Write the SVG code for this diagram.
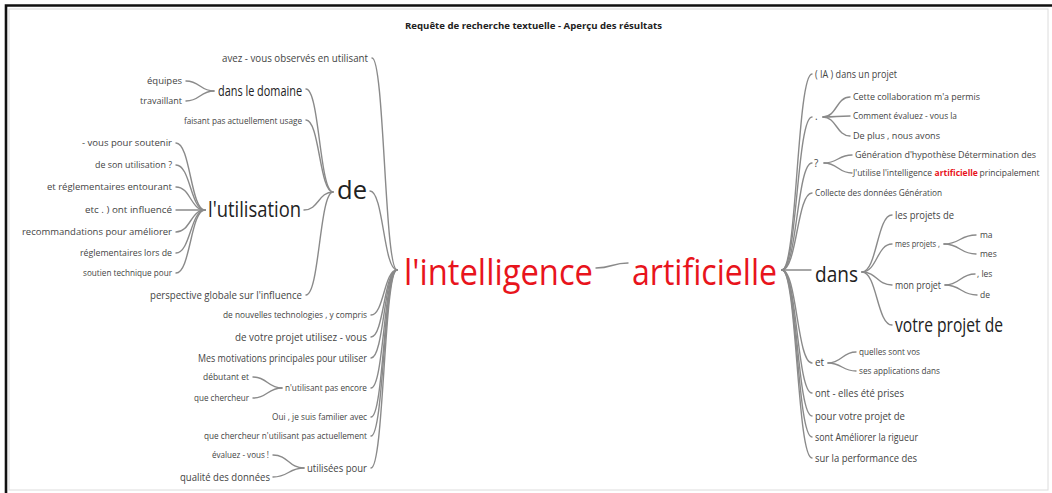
<svg xmlns="http://www.w3.org/2000/svg" width="1052" height="493" viewBox="0 0 1052 493">
<style>
text{font-family:"Segoe UI","Open Sans","Noto Sans",sans-serif;fill:#444}
.e{text-anchor:end}
.big{fill:#222}
.red{fill:#e8141c}
.b{font-weight:bold}
.c{fill:none;stroke:#8a8a8a;stroke-width:1.4;stroke-linecap:round}
</style>
<rect x="0" y="0" width="1052" height="493" fill="#fff"/>
<rect x="9" y="9" width="1039" height="481" fill="none" stroke="#dcdcdc" stroke-width="1"/>
<path d="M6,493 V5.5 H1052" fill="none" stroke="#111" stroke-width="2.6"/>
<g id="title"><text class="big b" x="533.5" y="29" text-anchor="middle" font-size="9.5" textLength="257" lengthAdjust="spacingAndGlyphs">Requête de recherche textuelle - Aperçu des résultats</text></g>

<g id="connectors">
<path class="c" d="M596,268 C612,268 612,263 628,263"/>
<path class="c" d="M372,58 C384.5,58 384.5,270 397,270"/>
<path class="c" d="M370,191 C383.5,191 383.5,270 397,270"/>
<path class="c" d="M371,315 C384,315 384,270 397,270"/>
<path class="c" d="M371,337 C384,337 384,270 397,270"/>
<path class="c" d="M371,358 C384,358 384,270 397,270"/>
<path class="c" d="M371,388 C384,388 384,270 397,270"/>
<path class="c" d="M371,417 C384,417 384,270 397,270"/>
<path class="c" d="M371,436 C384,436 384,270 397,270"/>
<path class="c" d="M371,468 C384,468 384,270 397,270"/>
<path class="c" d="M306,89 C319.5,89 319.5,192 333,192"/>
<path class="c" d="M306,120 C319.5,120 319.5,192 333,192"/>
<path class="c" d="M304,210 C318.5,210 318.5,192 333,192"/>
<path class="c" d="M306,295 C319.5,295 319.5,192 333,192"/>
<path class="c" d="M176,143 C190.5,143 190.5,210 205,210"/>
<path class="c" d="M176,165 C190.5,165 190.5,210 205,210"/>
<path class="c" d="M176,187 C190.5,187 190.5,210 205,210"/>
<path class="c" d="M176,210 L205,210"/>
<path class="c" d="M176,232 C190.5,232 190.5,210 205,210"/>
<path class="c" d="M176,253 C190.5,253 190.5,210 205,210"/>
<path class="c" d="M176,273 C190.5,273 190.5,210 205,210"/>
<path class="c" d="M186,81 C200,81 200,91 214,91"/>
<path class="c" d="M186,101 C200,101 200,91 214,91"/>
<path class="c" d="M253,377 C267.5,377 267.5,388 282,388"/>
<path class="c" d="M253,398 C267.5,398 267.5,388 282,388"/>
<path class="c" d="M273,455 C288.5,455 288.5,468 304,468"/>
<path class="c" d="M273,477 C288.5,477 288.5,468 304,468"/>
<path class="c" d="M782,270 C797,270 797,74 812,74"/>
<path class="c" d="M782,270 C797,270 797,117 812,117"/>
<path class="c" d="M782,270 C797,270 797,163 812,163"/>
<path class="c" d="M782,270 C797,270 797,193 812,193"/>
<path class="c" d="M782,270 L811,270"/>
<path class="c" d="M782,270 C797,270 797,363 812,363"/>
<path class="c" d="M782,270 C797,270 797,393 812,393"/>
<path class="c" d="M782,270 C797,270 797,416 812,416"/>
<path class="c" d="M782,270 C797,270 797,437 812,437"/>
<path class="c" d="M782,270 C797,270 797,458 812,458"/>
<path class="c" d="M823,117 C836.5,117 836.5,97 850,97"/>
<path class="c" d="M823,117 C836.5,117 836.5,116 850,116"/>
<path class="c" d="M823,117 C836.5,117 836.5,136 850,136"/>
<path class="c" d="M824,163 C838,163 838,155 852,155"/>
<path class="c" d="M824,163 C838,163 838,173 852,173"/>
<path class="c" d="M862,272 C877,272 877,215 892,215"/>
<path class="c" d="M862,272 C877,272 877,244 892,244"/>
<path class="c" d="M862,272 C877,272 877,285 892,285"/>
<path class="c" d="M862,272 C877,272 877,325 892,325"/>
<path class="c" d="M944,244 C960,244 960,235 976,235"/>
<path class="c" d="M944,244 C960,244 960,254 976,254"/>
<path class="c" d="M945,285 C960,285 960,274 975,274"/>
<path class="c" d="M945,285 C961,285 961,295 977,295"/>
<path class="c" d="M828,363 C842,363 842,352 856,352"/>
<path class="c" d="M828,363 C842,363 842,371 856,371"/>
</g>

<g id="n-intelligence"><text class="red" x="404" y="285" font-size="37" textLength="189" lengthAdjust="spacingAndGlyphs">l'intelligence</text></g>
<g id="n-artificielle"><text class="red" x="632" y="285" font-size="37" textLength="145" lengthAdjust="spacingAndGlyphs">artificielle</text></g>

<g id="n-avez"><text class="e" x="368" y="61.5" font-size="10" textLength="146" lengthAdjust="spacingAndGlyphs">avez - vous observés en utilisant</text></g>
<g id="n-de"><text class="big" x="337" y="199" font-size="25" textLength="30" lengthAdjust="spacingAndGlyphs">de</text></g>
<g id="n-domaine"><text class="e big" x="302" y="96" font-size="14" textLength="84" lengthAdjust="spacingAndGlyphs">dans le domaine</text></g>
<g id="n-equipes"><text class="e" x="182" y="84" font-size="9.5" textLength="35" lengthAdjust="spacingAndGlyphs">équipes</text></g>
<g id="n-travaillant"><text class="e" x="182" y="104" font-size="9.5" textLength="42" lengthAdjust="spacingAndGlyphs">travaillant</text></g>
<g id="n-faisant"><text class="e" x="302" y="124" font-size="8.5" textLength="118" lengthAdjust="spacingAndGlyphs">faisant pas actuellement usage</text></g>
<g id="n-utilisation"><text class="e big" x="301" y="217" font-size="21" textLength="93" lengthAdjust="spacingAndGlyphs">l'utilisation</text></g>
<g id="n-u1"><text class="e" x="172" y="146" font-size="9.5" textLength="90" lengthAdjust="spacingAndGlyphs">- vous pour soutenir</text></g>
<g id="n-u2"><text class="e" x="172" y="168" font-size="9.5" textLength="77" lengthAdjust="spacingAndGlyphs">de son utilisation ?</text></g>
<g id="n-u3"><text class="e" x="172" y="190" font-size="9.5" textLength="125" lengthAdjust="spacingAndGlyphs">et réglementaires entourant</text></g>
<g id="n-u4"><text class="e" x="172" y="213" font-size="9.5" textLength="87" lengthAdjust="spacingAndGlyphs">etc . ) ont influencé</text></g>
<g id="n-u5"><text class="e" x="172" y="235" font-size="9.5" textLength="150" lengthAdjust="spacingAndGlyphs">recommandations pour améliorer</text></g>
<g id="n-u6"><text class="e" x="172" y="256" font-size="9.5" textLength="92" lengthAdjust="spacingAndGlyphs">réglementaires lors de</text></g>
<g id="n-u7"><text class="e" x="172" y="276" font-size="9.5" textLength="89" lengthAdjust="spacingAndGlyphs">soutien technique pour</text></g>
<g id="n-perspective"><text class="e" x="302" y="298.5" font-size="10" textLength="152" lengthAdjust="spacingAndGlyphs">perspective globale sur l'influence</text></g>

<g id="n-nouvelles"><text class="e" x="367" y="318" font-size="9" textLength="144" lengthAdjust="spacingAndGlyphs">de nouvelles technologies , y compris</text></g>
<g id="n-votre"><text class="e" x="367" y="341" font-size="11" textLength="132" lengthAdjust="spacingAndGlyphs">de votre projet utilisez - vous</text></g>
<g id="n-motivations"><text class="e" x="367" y="361.5" font-size="10" textLength="169" lengthAdjust="spacingAndGlyphs">Mes motivations principales pour utiliser</text></g>
<g id="n-encore"><text class="e" x="367" y="391" font-size="9.5" textLength="82" lengthAdjust="spacingAndGlyphs">n'utilisant pas encore</text></g>
<g id="n-debutant"><text class="e" x="249" y="380" font-size="9.5" textLength="46" lengthAdjust="spacingAndGlyphs">débutant et</text></g>
<g id="n-chercheur"><text class="e" x="249" y="401" font-size="9.5" textLength="55" lengthAdjust="spacingAndGlyphs">que chercheur</text></g>
<g id="n-oui"><text class="e" x="367" y="420" font-size="9.5" textLength="95" lengthAdjust="spacingAndGlyphs">Oui , je suis familier avec</text></g>
<g id="n-actuellement"><text class="e" x="367" y="439" font-size="9" textLength="163" lengthAdjust="spacingAndGlyphs">que chercheur n'utilisant pas actuellement</text></g>
<g id="n-utilisees"><text class="e" x="367" y="472" font-size="11.5" textLength="60" lengthAdjust="spacingAndGlyphs">utilisées pour</text></g>
<g id="n-evaluez"><text class="e" x="269" y="458" font-size="9.5" textLength="57" lengthAdjust="spacingAndGlyphs">évaluez - vous !</text></g>
<g id="n-qualite"><text class="e" x="270" y="481" font-size="11" textLength="90" lengthAdjust="spacingAndGlyphs">qualité des données</text></g>

<g id="n-ia"><text x="815" y="77.5" font-size="10" textLength="82" lengthAdjust="spacingAndGlyphs">( IA ) dans un projet</text></g>
<g id="n-dot"><text x="815" y="120" font-size="10">.</text></g>
<g id="n-cette"><text x="853" y="100" font-size="9.5" textLength="127" lengthAdjust="spacingAndGlyphs">Cette collaboration m'a permis</text></g>
<g id="n-comment"><text x="853" y="119" font-size="9.5" textLength="104" lengthAdjust="spacingAndGlyphs">Comment évaluez - vous la</text></g>
<g id="n-deplus"><text x="853" y="139" font-size="9.5" textLength="87" lengthAdjust="spacingAndGlyphs">De plus , nous avons</text></g>
<g id="n-q"><text x="814" y="166.5" font-size="10">?</text></g>
<g id="n-generation"><text x="855" y="158" font-size="9" textLength="181" lengthAdjust="spacingAndGlyphs">Génération d'hypothèse Détermination des</text></g>
<g id="n-jutilise">
<text x="853" y="176" font-size="8.5">J'utilise l'intelligence</text>
<text class="red b" x="934.5" y="176" font-size="8.5">artificielle</text>
<text x="979.5" y="176" font-size="8.5">principalement</text>
</g>
<g id="n-collecte"><text x="815" y="196" font-size="9.5" textLength="127" lengthAdjust="spacingAndGlyphs">Collecte des données Génération</text></g>
<g id="n-dans"><text class="big" x="815" y="282" font-size="22" textLength="43" lengthAdjust="spacingAndGlyphs">dans</text></g>
<g id="n-lesprojets"><text x="895" y="218.5" font-size="10" textLength="59" lengthAdjust="spacingAndGlyphs">les projets de</text></g>
<g id="n-mesprojets"><text x="895" y="247" font-size="9" textLength="45" lengthAdjust="spacingAndGlyphs">mes projets ,</text></g>
<g id="n-ma"><text x="980" y="238" font-size="8.5">ma</text></g>
<g id="n-mes"><text x="980" y="257" font-size="8.5">mes</text></g>
<g id="n-monprojet"><text x="895" y="288.5" font-size="10" textLength="46" lengthAdjust="spacingAndGlyphs">mon projet</text></g>
<g id="n-les"><text x="977" y="277" font-size="8.5">, les</text></g>
<g id="n-de2"><text x="980" y="298" font-size="8.5">de</text></g>
<g id="n-votreprojet"><text class="big" x="895" y="332" font-size="20" textLength="108" lengthAdjust="spacingAndGlyphs">votre projet de</text></g>
<g id="n-et"><text x="815" y="366" font-size="10">et</text></g>
<g id="n-quelles"><text x="859" y="355" font-size="9" textLength="61" lengthAdjust="spacingAndGlyphs">quelles sont vos</text></g>
<g id="n-applications"><text x="859" y="374" font-size="9" textLength="81" lengthAdjust="spacingAndGlyphs">ses applications dans</text></g>
<g id="n-ont"><text x="815" y="397" font-size="11" textLength="89" lengthAdjust="spacingAndGlyphs">ont - elles été prises</text></g>
<g id="n-pour"><text x="815" y="420" font-size="11" textLength="90" lengthAdjust="spacingAndGlyphs">pour votre projet de</text></g>
<g id="n-sont"><text x="815" y="441" font-size="11" textLength="103" lengthAdjust="spacingAndGlyphs">sont Améliorer la rigueur</text></g>
<g id="n-sur"><text x="815" y="462" font-size="11" textLength="102" lengthAdjust="spacingAndGlyphs">sur la performance des</text></g>
</svg>
